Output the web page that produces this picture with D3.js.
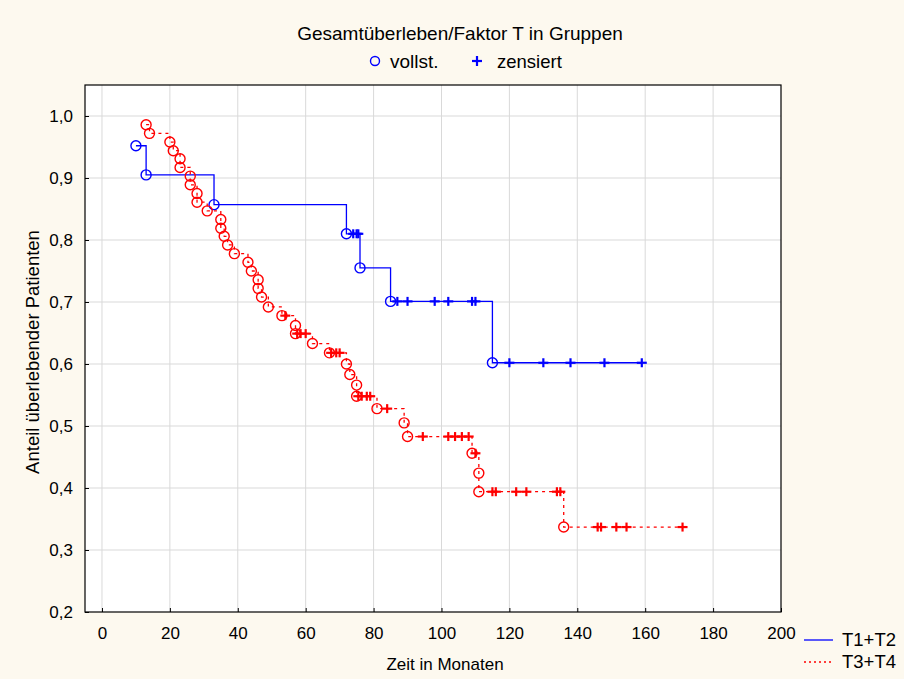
<!DOCTYPE html>
<html>
<head>
<meta charset="utf-8">
<script src="https://cdn.jsdelivr.net/npm/d3@7"></script>
<style>
  html, body { margin: 0; padding: 0; background: #fdf9ef; }
  svg { display: block; font-family: "Liberation Sans", Arial, sans-serif; }
</style>
</head>
<body>
<svg id="chart" width="904" height="679"></svg>
<script>
// T1+T2 (blue): completed observations (time, survival) and censored times
const blueTimes = [10, 13, 33, 72, 76, 85, 115];
const blueSurv = [0.952, 0.905, 0.857, 0.810, 0.755, 0.701, 0.602];
const blueCensored = [74, 75, 75.5, 87, 90, 98, 102, 109, 110, 120, 130, 138, 148, 159];

// T3+T4 (red)
const redTimes = [13, 14, 20, 21, 23, 23, 26, 26, 28, 28, 31, 35, 35, 36, 37, 39, 43, 44, 46, 46,
  47, 49, 53, 57, 57, 62, 67, 72, 73, 75, 75, 81, 89, 90, 109, 111, 111, 136];
const redSurv = [0.986, 0.972, 0.958, 0.944, 0.931, 0.917, 0.903, 0.889, 0.875, 0.861, 0.847, 0.833,
  0.819, 0.806, 0.792, 0.778, 0.764, 0.750, 0.736, 0.722, 0.708, 0.692, 0.678, 0.662, 0.649, 0.633,
  0.618, 0.600, 0.583, 0.566, 0.548, 0.528, 0.505, 0.483, 0.456, 0.424, 0.394, 0.337];
const redCensored = [54, 57.5, 58.5, 60, 67.5, 69, 70, 75.5, 76.5, 78, 79, 84, 94.5, 102, 104, 106, 108,
  110, 115, 116, 122, 125, 134, 135, 146, 147, 151.5, 154.5, 171];

const xTicks = [0, 20, 40, 60, 80, 100, 120, 140, 160, 180, 200];
const yTicks = [0.2, 0.3, 0.4, 0.5, 0.6, 0.7, 0.8, 0.9, 1.0];

const groups = [
  { name: 'T1+T2', times: blueTimes, surv: blueSurv, cens: blueCensored, color: '#0000ff', dash: null },
  { name: 'T3+T4', times: redTimes, surv: redSurv, cens: redCensored, color: '#ff0000', dash: '3,4' }
];

const svg = d3.select('#chart');
const margin = { top: 85, right: 123, bottom: 67, left: 85 };
const width = 904 - margin.left - margin.right;
const height = 679 - margin.top - margin.bottom;

const x = d3.scaleLinear().domain([-5, 200]).range([0, width]);
const y = d3.scaleLinear().domain([0.2, 1.05]).range([height, 0]);

const g = svg.append('g').attr('transform', `translate(${margin.left},${margin.top})`);

g.append('rect').attr('width', width).attr('height', height).attr('fill', '#fff');

// grid
g.selectAll('.vgrid').data(xTicks.filter(d => d < 200)).enter().append('line')
  .attr('x1', d => x(d)).attr('x2', d => x(d)).attr('y1', 0).attr('y2', height)
  .attr('stroke', '#d9d9d9').attr('stroke-width', 1);
g.selectAll('.hgrid').data(yTicks.filter(d => d > 0.2)).enter().append('line')
  .attr('x1', 0).attr('x2', width).attr('y1', d => y(d)).attr('y2', d => y(d))
  .attr('stroke', '#d9d9d9').attr('stroke-width', 1);

// axes
const fmt = d => d3.format('.1f')(d).replace('.', ',');
const xAxis = g.append('g').attr('transform', `translate(0,${height})`)
  .call(d3.axisBottom(x).tickValues(xTicks).tickSizeInner(-4).tickSizeOuter(0).tickPadding(15));
const yAxis = g.append('g')
  .call(d3.axisLeft(y).tickValues(yTicks).tickFormat(fmt).tickSizeInner(-4).tickSizeOuter(0).tickPadding(12));
[xAxis, yAxis].forEach(a => {
  a.select('.domain').remove();
  a.selectAll('.tick line').attr('stroke', '#000');
  a.selectAll('.tick text').attr('font-size', 17).attr('fill', '#000')
    .attr('font-family', '"Liberation Sans", Arial, sans-serif');
});

g.append('rect').attr('width', width).attr('height', height)
  .attr('fill', 'none').attr('stroke', '#000').attr('stroke-width', 1.2);

// survival curves
const line = d3.line().x(d => x(d[0])).y(d => y(d[1])).curve(d3.curveStepAfter);

function survAt(grp, t) {
  let s = grp.surv[0];
  grp.times.forEach((tt, i) => { if (tt <= t) s = grp.surv[i]; });
  return s;
}

groups.forEach(grp => {
  const pts = grp.times.map((t, i) => [t, grp.surv[i]]);
  const tEnd = d3.max(grp.cens);
  pts.push([tEnd, grp.surv[grp.surv.length - 1]]);

  g.append('path').datum(pts)
    .attr('d', line)
    .attr('fill', 'none')
    .attr('stroke', grp.color)
    .attr('stroke-width', 1.3)
    .attr('stroke-dasharray', grp.dash);

  g.selectAll(null).data(grp.times.map((t, i) => [t, grp.surv[i]])).enter().append('circle')
    .attr('cx', d => x(d[0])).attr('cy', d => y(d[1])).attr('r', 5)
    .attr('fill', 'none').attr('stroke', grp.color).attr('stroke-width', 1.4);

  const cross = g.selectAll(null).data(grp.cens).enter().append('g')
    .attr('transform', d => `translate(${x(d)},${y(survAt(grp, d))})`);
  cross.append('line').attr('x1', -5).attr('x2', 5).attr('stroke', grp.color).attr('stroke-width', 2.2);
  cross.append('line').attr('y1', -4.5).attr('y2', 4.5).attr('stroke', grp.color).attr('stroke-width', 2.2);
});

// title and top legend
svg.append('text').attr('x', 460).attr('y', 40).attr('text-anchor', 'middle')
  .attr('font-size', 19).text('Gesamtüberleben/Faktor T in Gruppen');
svg.append('circle').attr('cx', 375).attr('cy', 61).attr('r', 4.5)
  .attr('fill', 'none').attr('stroke', '#0000ff').attr('stroke-width', 1.4);
svg.append('text').attr('x', 390).attr('y', 68).attr('font-size', 19).text('vollst.');
svg.append('line').attr('x1', 472).attr('x2', 482).attr('y1', 61).attr('y2', 61)
  .attr('stroke', '#0000ff').attr('stroke-width', 2.2);
svg.append('line').attr('x1', 477).attr('x2', 477).attr('y1', 56).attr('y2', 66)
  .attr('stroke', '#0000ff').attr('stroke-width', 2.2);
svg.append('text').attr('x', 497).attr('y', 68).attr('font-size', 18.5).text('zensiert');

// axis titles
svg.append('text').attr('x', 445).attr('y', 670).attr('text-anchor', 'middle')
  .attr('font-size', 17).text('Zeit in Monaten');
svg.append('text').attr('transform', 'translate(39,352) rotate(-90)').attr('text-anchor', 'middle')
  .attr('font-size', 18.5).text('Anteil überlebender Patienten');

// bottom-right legend
groups.forEach((grp, i) => {
  const ly = 640 + i * 22;
  svg.append('line').attr('x1', 804).attr('x2', 833).attr('y1', ly).attr('y2', ly)
    .attr('stroke', grp.color).attr('stroke-width', 1.3).attr('stroke-dasharray', grp.dash ? '2,3' : null);
  svg.append('text').attr('x', 842).attr('y', ly + 6).attr('font-size', 18.5).text(grp.name);
});
</script>
</body>
</html>
